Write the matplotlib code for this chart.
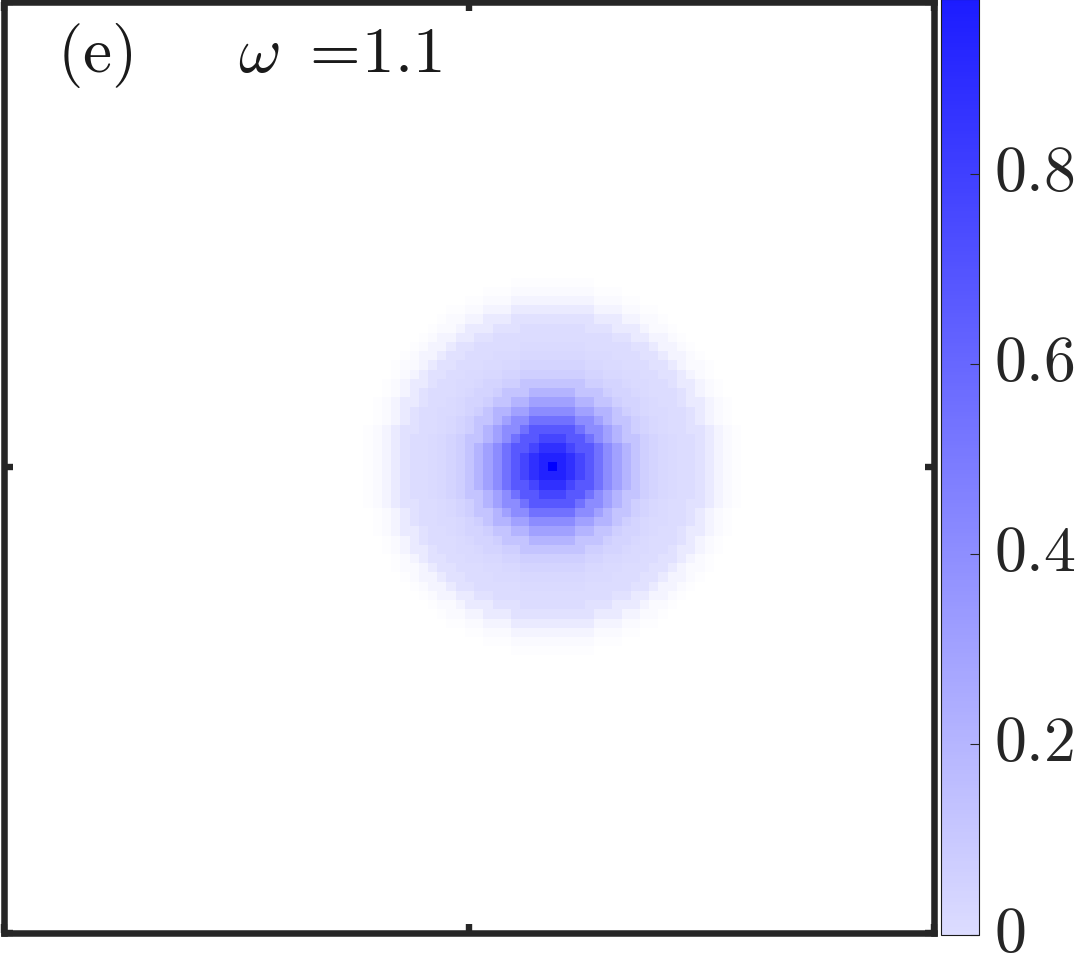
import numpy as np
import matplotlib
matplotlib.use('Agg')
from matplotlib import pyplot as plt
from matplotlib.colors import LinearSegmentedColormap
from matplotlib.transforms import ScaledTranslation

plt.rcParams['mathtext.fontset'] = 'cm'
plt.rcParams['font.family'] = 'serif'

# grid of the field (101 x 101 cells), peak cell position (column, row from top)
n_cells = 101
peak_col = 59
peak_row = 50

ring_value = [1.0, 0.95, 0.88, 0.77, 0.67, 0.545, 0.41, 0.30, 0.20, 0.12,
              0.066, 0.04, 0.02, 0.01, 0.0, 0.0, 0.0, 0.0, 0.0, 0.0, 0.0]
# opacity per ring (outer rim fades to white)
ring_alpha = [1, 1, 1, 1, 1, 1, 1, 1, 1, 1,
              1, 1, 1, 1, 1, 1, 0.85, 0.6, 0.3, 0.12, 0.04]

cbar_ticks = [0, 0.2, 0.4, 0.6, 0.8]
cbar_labels = ['$0$', '$0.2$', '$0.4$', '$0.6$', '$0.8$']
vmax = 0.984

panel_label = r'$\mathrm{(e)}$'
omega_label = r'$\omega\ {=}\!1.1$'

# build the field from the ring table
cols, rows = np.meshgrid(np.arange(n_cells), np.arange(n_cells))
ring = np.rint(np.hypot(cols - peak_col, rows - peak_row)).astype(int)
inside = ring < len(ring_value)
idx = np.clip(ring, 0, len(ring_value) - 1)
field = np.where(inside, np.array(ring_value)[idx], 0.0)
alpha = np.where(inside, np.array(ring_alpha)[idx], 0.0)

cmap = LinearSegmentedColormap.from_list('lav', [(220/255, 220/255, 1.0), (28/255, 28/255, 1.0)])
cmap.set_over('#0000ff')

W, H = 1078, 954
fig = plt.figure(figsize=(W/100, H/100), dpi=100)
ax = fig.add_axes([3.5/W, (H-933.5)/H, 930/W, 930.5/H])
im = ax.imshow(field, cmap=cmap, vmin=0, vmax=vmax, alpha=alpha,
               interpolation='nearest', extent=(0, n_cells, n_cells, 0), aspect='auto')
ax.set_xlim(0, n_cells)
ax.set_ylim(n_cells, 0)
ax.set_xticks([0, n_cells/2, n_cells])
ax.set_yticks([0, n_cells/2, n_cells])
ax.set_xticklabels([])
ax.set_yticklabels([])
ax.tick_params(direction='in', length=6.5, width=4.6, color='#262626',
               top=True, right=True)
for s in ax.spines.values():
    s.set_linewidth(4.7)
    s.set_color('#262626')

ax.text(0.058, 0.926, panel_label, transform=ax.transAxes, fontsize=47,
        color='#1a1a1a', va='baseline', ha='left')
ax.text(0.252, 0.926, omega_label, transform=ax.transAxes, fontsize=47,
        color='#1a1a1a', va='baseline', ha='left')

cax = fig.add_axes([941/W, (H-935.5)/H, 38/W, 935.5/H])
cb = fig.colorbar(im, cax=cax)
cb.set_ticks(cbar_ticks)
cb.set_ticklabels(cbar_labels)
cb.outline.set_linewidth(0.8)
cb.outline.set_edgecolor('#1a1a1a')
cax.tick_params(direction='in', length=6.5, width=0.8, pad=11,
                labelsize=46, colors='#262626')
# nudge the colorbar labels up a little, as in the original
shift = ScaledTranslation(0, 8/100, fig.dpi_scale_trans)
for lbl in cax.get_yticklabels():
    lbl.set_transform(lbl.get_transform() + shift)

fig.savefig('out.png', dpi=100)
